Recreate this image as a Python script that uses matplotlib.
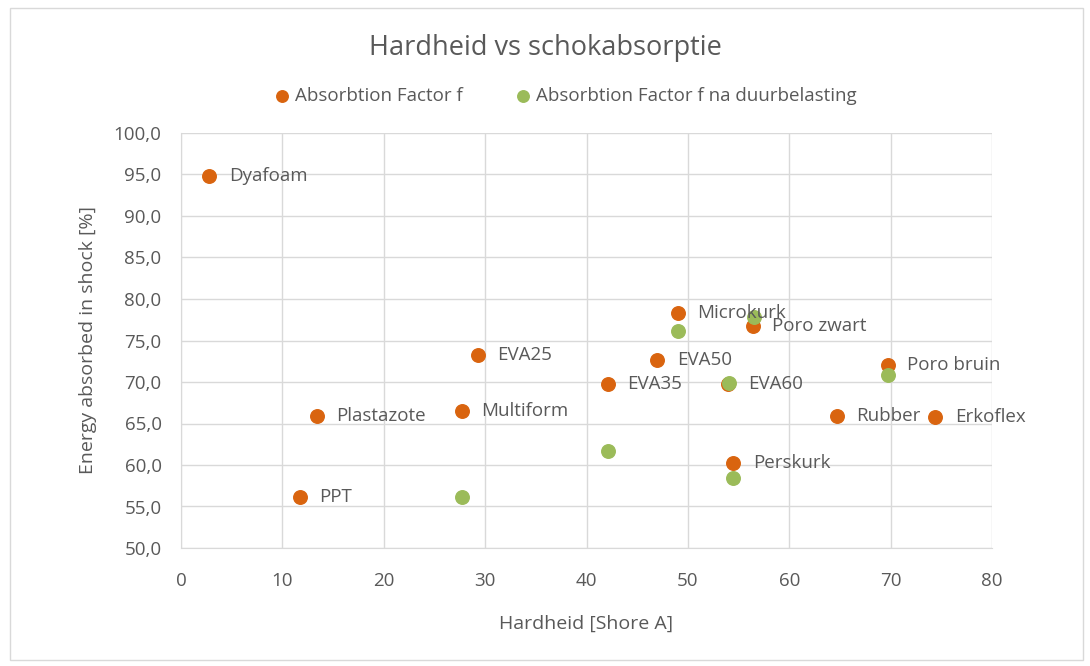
import matplotlib.pyplot as plt
from matplotlib.patches import Rectangle

# Data
materials = ["Dyafoam", "PPT", "Plastazote", "Multiform", "EVA25", "EVA35", "EVA50",
             "Microkurk", "Poro zwart", "EVA60", "Perskurk", "Rubber", "Poro bruin", "Erkoflex"]
hardness = [2.8, 11.7, 13.4, 27.7, 29.3, 42.1, 47.0, 49.0, 56.4, 54.0, 54.5, 64.7, 69.7, 74.4]
absorption = [94.8, 56.1, 65.9, 66.5, 73.2, 69.7, 72.6, 78.3, 76.8, 69.7, 60.2, 65.9, 72.0, 65.8]

hardness_after = [27.7, 42.1, 49.0, 56.5, 54.1, 54.5, 69.7]
absorption_after = [56.1, 61.7, 76.1, 77.8, 69.9, 58.4, 70.8]

orange = "#D9640F"
green = "#9BBB59"
text_col = "#595959"
plt.rcParams['font.family'] = ['Open Sans', 'DejaVu Sans']

fig = plt.figure(figsize=(10.9, 6.66), dpi=100)
fig.patches.append(Rectangle((10 / 1090, 6 / 666), 1073 / 1090, 652 / 666, transform=fig.transFigure,
                             fill=False, edgecolor="#D9D9D9", linewidth=1))
ax = fig.add_axes([181 / 1090, 1 - 548 / 666, 811 / 1090, 415 / 666])

ax.scatter(hardness, absorption, s=95, color=orange, zorder=3, label="Absorbtion Factor f")
ax.scatter(hardness_after, absorption_after, s=95, color=green, zorder=3,
           label="Absorbtion Factor f na duurbelasting")

for name, x, y in zip(materials, hardness, absorption):
    ax.annotate(name, (x, y), xytext=(14, 0), textcoords="offset points", va="center",
                fontsize=13.5, color=text_col)

ax.set_xlim(0, 80)
ax.set_ylim(50, 100)
ax.set_xticks(range(0, 81, 10))
ax.set_yticks(range(50, 101, 5))
ax.set_yticklabels([f"{v:.1f}".replace(".", ",") for v in range(50, 101, 5)])
ax.grid(True, color="#D9D9D9", linewidth=1)
ax.set_axisbelow(True)
for s in ["top", "right"]:
    ax.spines[s].set_visible(False)
for s in ["left", "bottom"]:
    ax.spines[s].set_color("#D9D9D9")
ax.tick_params(length=0, labelsize=13.5, colors=text_col)
ax.tick_params(axis="x", pad=17)
ax.tick_params(axis="y", pad=14)

ax.set_xlabel("Hardheid [Shore A]", fontsize=14, color=text_col, labelpad=18)
ax.set_ylabel("Energy absorbed in shock [%]", fontsize=14, color=text_col, labelpad=12)

fig.text(0.5, 1 - 48 / 666, "Hardheid vs schokabsorptie", ha="center", va="center",
         fontsize=19.5, color=text_col)
fig.legend(loc="center", bbox_to_anchor=(0.514, 1 - 96 / 666), ncol=2, frameon=False,
           fontsize=13.5, labelcolor=text_col, handletextpad=-0.3, columnspacing=2.2,
           markerscale=0.85)

fig.savefig("out.png", dpi=100)
